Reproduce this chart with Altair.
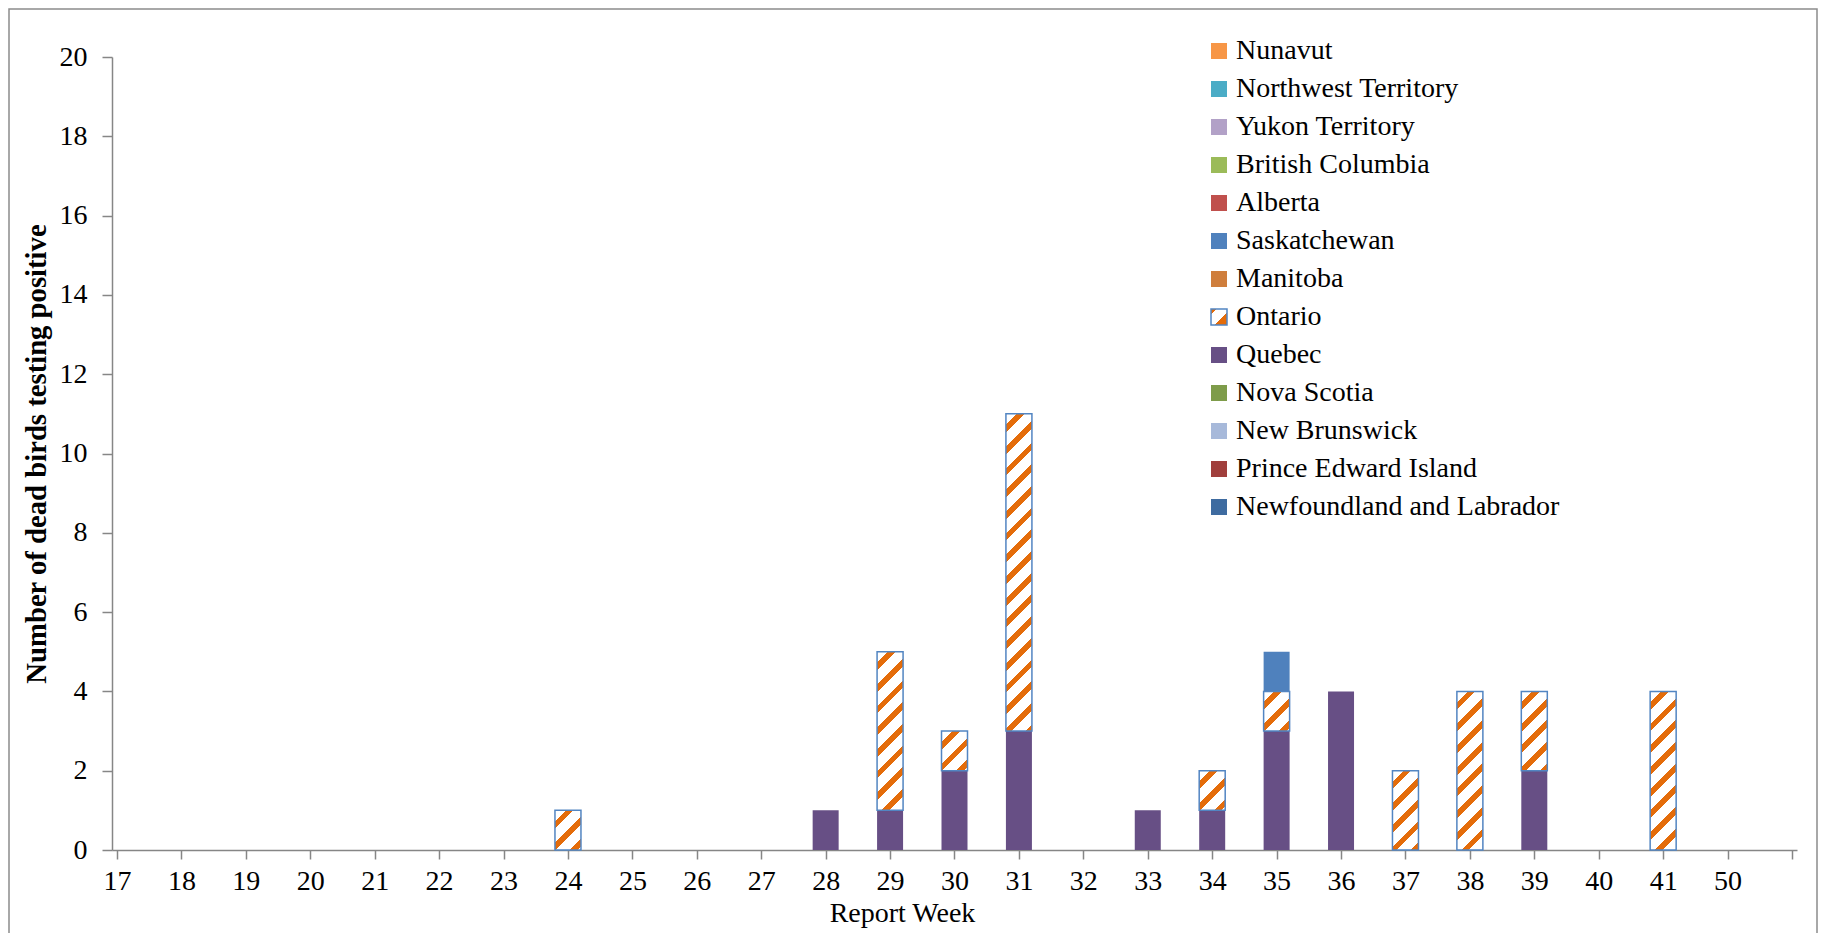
import altair as alt
import pandas as pd

# ---------------- data ----------------
weeks = ["17", "18", "19", "20", "21", "22", "23", "24", "25", "26", "27", "28", "29",
         "30", "31", "32", "33", "34", "35", "36", "37", "38", "39", "40", "41", "50"]
quebec = [0, 0, 0, 0, 0, 0, 0, 0, 0, 0, 0, 1, 1, 2, 3, 0, 1, 1, 3, 4, 0, 0, 2, 0, 0, 0]
ontario = [0, 0, 0, 0, 0, 0, 0, 1, 0, 0, 0, 0, 4, 1, 8, 0, 0, 1, 1, 0, 2, 4, 2, 0, 4, 0]
saskatchewan = [0, 0, 0, 0, 0, 0, 0, 0, 0, 0, 0, 0, 0, 0, 0, 0, 0, 0, 1, 0, 0, 0, 0, 0, 0, 0]

provinces = ["Nunavut", "Northwest Territory", "Yukon Territory", "British Columbia",
             "Alberta", "Saskatchewan", "Manitoba", "Ontario", "Quebec", "Nova Scotia",
             "New Brunswick", "Prince Edward Island", "Newfoundland and Labrador"]
colors = ["#F79646", "#4BACC6", "#B2A1C7", "#9BBB59", "#C0504D", "#4F81BD", "#CF7E3C",
          "#FFFFFF", "#674F85", "#7E9C4A", "#A7B9DA", "#A03F3C", "#3E6BA0"]

series = {"Quebec": quebec, "Ontario": ontario, "Saskatchewan": saskatchewan}

# ---------------- styling constants ----------------
W_PLOT, H_PLOT = 1685, 793
Y_MAX = 20
PX_PER_UNIT = H_PLOT / Y_MAX
BAR_W = 26
ORANGE = "#E46C0A"
BORDER = "#5285C2"
AXIS_GRAY = "#868686"
SERIF = "Liberation Serif"

# ---------------- build stacked table ----------------
stack_order = [p for p in reversed(provinces) if p in series]
rows = []
for i, w in enumerate(weeks):
    base = 0
    for p in stack_order:
        v = series[p][i]
        if v > 0:
            rows.append(dict(idx=i, week=w, province=p, y0=base, y1=base + v, n=v))
            base += v
df = pd.DataFrame(rows)


def stripe_gradient(h_units, period=21.7, frac=0.36):
    W = BAR_W
    H = h_units * PX_PER_UNIT
    L = W + H
    k = L / (W * W + H * H)
    stops = [{"offset": 0.0, "color": "white"}]
    a = -period * 0.5
    while a < L:
        b = a + frac * period
        s0, s1 = max(a, 0.0) / L, min(b, L) / L
        if s1 > s0:
            stops += [{"offset": s0, "color": "white"}, {"offset": s0, "color": ORANGE},
                      {"offset": s1, "color": ORANGE}, {"offset": s1, "color": "white"}]
        a += period
    stops.append({"offset": 1.0, "color": "white"})
    return {"gradient": "linear", "x1": 0, "y1": 0, "x2": W * k, "y2": H * k, "stops": stops}


label_arr = "[" + ",".join("'%s'" % w for w in weeks + [""]) + "]"

x_enc = alt.X(
    "idx:Q",
    scale=alt.Scale(domain=[0, len(weeks)], nice=False, zero=False),
    axis=alt.Axis(
        values=list(range(len(weeks) + 1)),
        labelExpr=label_arr + "[datum.value]",
        grid=False, tickSize=9, tickColor=AXIS_GRAY, tickWidth=1.5,
        domainColor=AXIS_GRAY, domainWidth=1.5,
        labelFont=SERIF, labelFontSize=28, labelColor="black", labelPadding=8,
        labelFlush=False, labelOverlap=False,
        title="Report Week", titleFont=SERIF, titleFontSize=28, titleFontWeight="normal",
        titleColor="black", titleX=790, titleY=63, titleBaseline="middle", titleAlign="center",
    ),
)
y_enc = alt.Y(
    "y0:Q",
    scale=alt.Scale(domain=[0, Y_MAX], nice=False),
    axis=alt.Axis(
        values=list(range(0, Y_MAX + 1, 2)),
        grid=False, tickSize=10, tickColor=AXIS_GRAY, tickWidth=1.5,
        domainColor=AXIS_GRAY, domainWidth=1.5,
        labelFont=SERIF, labelFontSize=28, labelColor="black", labelPadding=15,
        title="Number of dead birds testing positive", titleFont=SERIF, titleFontSize=28.7,
        titleFontWeight="bold", titleColor="black", titleAngle=-90,
        titleX=-76, titleY=H_PLOT / 2, titleBaseline="middle", titleAlign="center",
    ),
)
y2_enc = alt.Y2("y1:Q")

# legend swatch for Ontario: small striped square (gradient given as an expression)
ont_legend_fill = alt.ExprRef(
    "{gradient:'linear',x1:0,y1:0,x2:1,y2:1,stops:["
    "{offset:0,color:'%s'},{offset:0.18,color:'%s'},{offset:0.18,color:'white'},"
    "{offset:0.62,color:'white'},{offset:0.62,color:'%s'},{offset:1,color:'%s'}]}"
    % (ORANGE, ORANGE, ORANGE, ORANGE)
)
fill_range = [ont_legend_fill if p == "Ontario" else c for p, c in zip(provinces, colors)]
stroke_range = [BORDER if p == "Ontario" else "transparent" for p in provinces]

legend = alt.Legend(
    title=None, orient="none", legendX=1093, legendY=-20, direction="vertical",
    symbolType="square", symbolSize=256, labelFont=SERIF, labelFontSize=28,
    labelColor="black", labelOffset=3, labelLimit=0, rowPadding=10, padding=0,
    symbolStrokeWidth=1.5, symbolOpacity=1,
)

frame = alt.Chart(alt.Data(values=[{"f": 1}])).mark_rect(
    fillOpacity=0, stroke="#8C8C8C", strokeWidth=1.5
).encode(
    x=alt.value(-103), x2=alt.value(1705), y=alt.value(-48), y2=alt.value(950)
)

solid = alt.Chart(df[df.province != "Ontario"]).mark_bar(width=BAR_W, strokeWidth=1.5).encode(
    x=x_enc, y=y_enc, y2=y2_enc,
    color=alt.Color("province:N", scale=alt.Scale(domain=provinces, range=fill_range), legend=legend),
    stroke=alt.Stroke("province:N", scale=alt.Scale(domain=provinces, range=stroke_range), legend=legend),
)

ont_df = df[df.province == "Ontario"]
ont_layers = []
for h in sorted(ont_df.n.unique()):
    ont_layers.append(
        alt.Chart(ont_df[ont_df.n == h]).mark_bar(
            width=BAR_W, fill=stripe_gradient(int(h)), stroke=BORDER, strokeWidth=1.5
        ).encode(x=x_enc, y=y_enc, y2=y2_enc)
    )

chart = alt.layer(frame, solid, *ont_layers).properties(
    width=W_PLOT, height=H_PLOT,
    autosize="none",
    padding={"left": 104, "top": 49, "right": 21, "bottom": 83},
).configure_view(stroke="transparent")

chart.save("out.html", embed_options={"renderer": "svg", "actions": False})
